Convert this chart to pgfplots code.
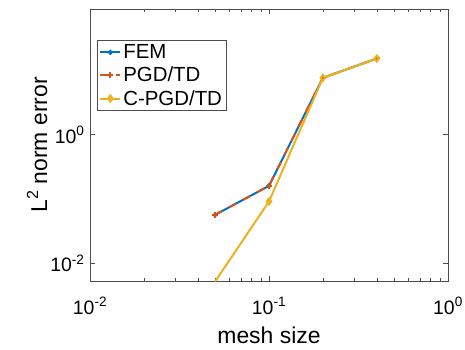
\documentclass[border=0pt]{standalone}
\usepackage{fontspec}
\setmainfont{Liberation Sans}
\usepackage{pgfplots}
\pgfplotsset{compat=1.18}
\definecolor{mblue}{rgb}{0,0.447,0.741}
\definecolor{morange}{rgb}{0.85,0.325,0.098}
\definecolor{myellow}{rgb}{0.929,0.694,0.125}
\begin{document}
\begin{tikzpicture}
\useasboundingbox (-90bp,-69bp) rectangle (375bp,281bp);
\begin{axis}[
  at={(0,0)}, anchor=south west,
  scale only axis, width=358bp, height=272bp,
  xmode=log, ymode=log,
  xmin=0.01, xmax=1, ymin=0.0053, ymax=90,
  xtick={0.01,0.1,1}, xticklabels={10\textsuperscript{-2},10\textsuperscript{-1},10\textsuperscript{0}},
  ytick={0.01,1}, yticklabels={10\textsuperscript{-2},10\textsuperscript{0}},
  tick align=inside, tick pos=both,
  major tick length=5bp, minor tick length=3bp,
  axis line style={black!70, line width=0.6pt},
  every tick/.style={black!70, line width=0.5pt},
  tick label style={font=\fontsize{19.5}{21}\selectfont},
  xticklabel style={anchor=base, yshift=-33bp, inner sep=0pt},
  yticklabel style={xshift=-2bp},
  xlabel={mesh size}, ylabel={L\textsuperscript{2} norm error},
  label style={font=\fontsize{23}{25}\selectfont},
  xlabel style={at={(axis description cs:0.5,0)}, anchor=base, yshift=-62bp, inner sep=0pt},
  ylabel style={yshift=-4bp},
  legend style={at={(0.02,0.885)}, anchor=north west, font=\fontsize{20.5}{23}\selectfont,
    draw=black!70, line width=0.6pt, inner sep=2bp, row sep=3bp},
  legend image post style={line width=2pt},
  legend cell align=left,
  every axis plot/.append style={line width=2pt},
  legend image code/.code={\draw[mark repeat=2,mark phase=2] plot coordinates {(0cm,0cm) (0.35cm,0cm) (0.7cm,0cm)};},
]
\addplot[mblue, mark=*, mark size=1.5pt] coordinates {(0.05,0.0567) (0.1,0.16) (0.2,7.64) (0.4,15.3)};
\addlegendentry{FEM}
\addplot[morange, dashed, dash pattern=on 8pt off 8pt, mark=+, mark size=3pt, mark options={solid}] coordinates {(0.05,0.0567) (0.1,0.16) (0.2,7.64) (0.4,15.3)};
\addlegendentry{PGD/TD}
\addplot[myellow, mark=diamond, mark size=3pt, mark options={solid}] coordinates {(0.05,0.0052) (0.1,0.0914) (0.2,7.64) (0.4,15.3)};
\addlegendentry{C-PGD/TD}
\end{axis}
\end{tikzpicture}
\end{document}
